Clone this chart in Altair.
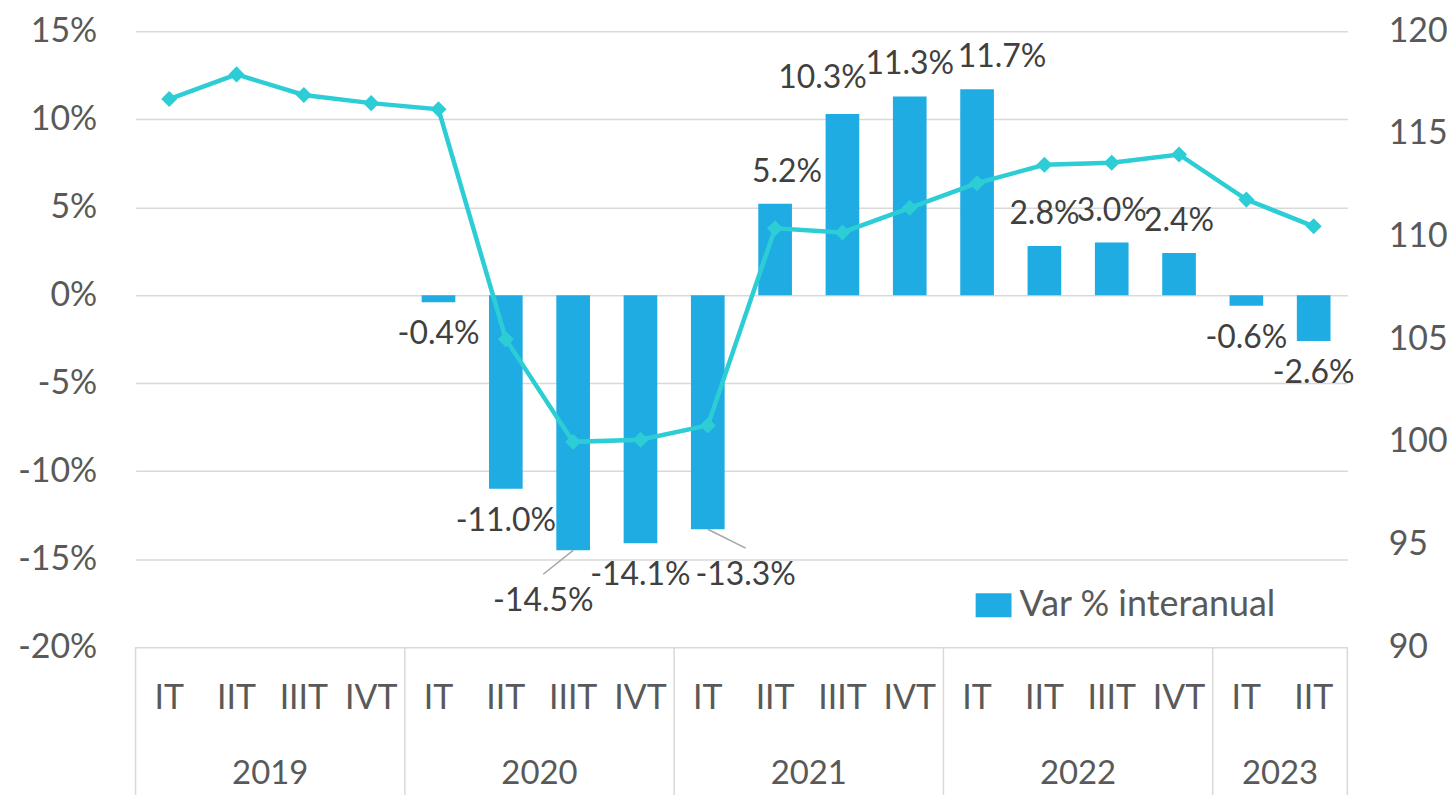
import altair as alt
import pandas as pd

# ---------------- data ----------------
years = ["2019"] * 4 + ["2020"] * 4 + ["2021"] * 4 + ["2022"] * 4 + ["2023"] * 2
quarters = ["IT", "IIT", "IIIT", "IVT"] * 4 + ["IT", "IIT"]
var_pct = [None, None, None, None, -0.4, -11.0, -14.5, -14.1, -13.3,
           5.2, 10.3, 11.3, 11.7, 2.8, 3.0, 2.4, -0.6, -2.6]
index_vals = [116.7, 117.9, 116.9, 116.5, 116.2, 105.0, 100.0, 100.1, 100.8,
              110.4, 110.2, 111.4, 112.6, 113.5, 113.6, 114.0, 111.8, 110.5]
series_name = "Var % interanual"
left_ticks = [-20, -15, -10, -5, 0, 5, 10, 15]
right_ticks = [90, 95, 100, 105, 110, 115, 120]

# label nudges in screen pixels (dx, dy) for crowded labels
label_nudge = {6: (-30, 19), 8: (38, 14), 9: (12, 0), 10: (-20, -4), 12: (25, 0)}
leader_for = [6, 8]

# ---------------- layout constants ----------------
W, H = 1216, 618
N = len(quarters)
PXX = W / N                 # px per category
PXY = H / (left_ticks[-1] - left_ticks[0])   # px per percentage point
GAP = 32
FONT = "Lato"
BAR_C = "#1EACE2"
LINE_C = "#2DCDD6"
TXT = "#595959"
GRID = "#D9D9D9"

rows = []
for i in range(N):
    v = var_pct[i]
    dx, dy = label_nudge.get(i, (0, 0))
    rec = dict(idx=i, year=years[i], quarter=quarters[i], var=v,
               index=index_vals[i], series=series_name)
    if v is not None:
        s = 1 if v >= 0 else -1
        rec["lab_x"] = i + dx / PXX
        rec["lab_y"] = v + s * GAP / PXY - dy / PXY
        rec["label"] = f"{v:.1f}%"
        rec["x0"] = i - 0.25
        rec["x1"] = i + 0.25
        if i in leader_for:
            rec["lead_x"] = rec["lab_x"]
            rec["lead_y"] = rec["lab_y"] + 27 / PXY
    rows.append(rec)
df = pd.DataFrame(rows)

bars_df = df.dropna(subset=["var"])
lead_df = df.dropna(subset=["lead_x"])

year_df = df.groupby("year", as_index=False).agg(mid=("idx", "mean"), last=("idx", "max"))
sep_vals = [-0.5] + [v + 0.5 for v in year_df["last"].tolist()]
sep_df = pd.DataFrame({"sx": sep_vals})

xscale = alt.Scale(domain=[-0.5, N - 0.5], nice=False, zero=False)
yl_scale = alt.Scale(domain=[left_ticks[0], left_ticks[-1]], nice=False, zero=False)
yr_scale = alt.Scale(domain=[right_ticks[0], right_ticks[-1]], nice=False, zero=False)

left_axis = alt.Axis(values=left_ticks, labelExpr="datum.value + '%'", title=None,
                     domain=False, ticks=False, labelFontSize=34, labelFont=FONT,
                     labelColor=TXT, labelPadding=39, grid=True, gridColor=GRID,
                     gridWidth=1.5)
right_axis = alt.Axis(values=right_ticks, title=None, orient="right", domain=False,
                      ticks=False, labelFontSize=34, labelFont=FONT, labelColor=TXT,
                      labelPadding=41, grid=False)

base = alt.Chart(df)

bars = alt.Chart(bars_df).mark_bar().encode(
    x=alt.X("x0:Q", scale=xscale, axis=None),
    x2="x1:Q",
    y=alt.Y("var:Q", scale=yl_scale, axis=left_axis),
    y2=alt.datum(0),
    color=alt.Color("series:N", scale=alt.Scale(domain=[series_name], range=[BAR_C]),
                    legend=alt.Legend(title=None, orient="none", legendX=837, legendY=552,
                                      symbolType="M-0.75,-0.5H0.75V0.5H-0.75Z",
                                      symbolSize=2304, symbolStrokeWidth=0,
                                      symbolOpacity=1,
                                      labelFontSize=36, labelFont=FONT, labelColor=TXT,
                                      labelLimit=0, labelOffset=2, padding=0)),
)

labels = alt.Chart(bars_df).mark_text(fontSize=32, font=FONT, color="#404040",
                                      baseline="middle", align="center").encode(
    x=alt.X("lab_x:Q", scale=xscale, axis=None),
    y=alt.Y("lab_y:Q", scale=yl_scale, axis=left_axis),
    text="label:N",
)

leaders = alt.Chart(lead_df).mark_rule(color="#A6A6A6", strokeWidth=1.5).encode(
    x=alt.X("idx:Q", scale=xscale, axis=None),
    x2="lead_x:Q",
    y=alt.Y("var:Q", scale=yl_scale, axis=left_axis),
    y2="lead_y:Q",
)

q_text = base.mark_text(fontSize=34, font=FONT, color=TXT, baseline="middle").encode(
    x=alt.X("idx:Q", scale=xscale, axis=None),
    y=alt.value(H + 52),
    text="quarter:N",
)

y_text = alt.Chart(year_df).mark_text(fontSize=33, font=FONT, color=TXT,
                                      baseline="middle").encode(
    x=alt.X("mid:Q", scale=xscale, axis=None),
    y=alt.value(H + 127),
    text="year:N",
)

seps = alt.Chart(sep_df).mark_rule(color=GRID, strokeWidth=1.5).encode(
    x=alt.X("sx:Q", scale=xscale, axis=None),
    y=alt.value(H),
    y2=alt.value(H + 160),
)

left = alt.layer(bars, leaders, labels, q_text, y_text, seps)

line = base.mark_line(color=LINE_C, strokeWidth=4.5).encode(
    x=alt.X("idx:Q", scale=xscale, axis=None),
    y=alt.Y("index:Q", scale=yr_scale, axis=right_axis),
)
pts = base.mark_point(shape="diamond", filled=True, color=LINE_C, size=260, opacity=1).encode(
    x=alt.X("idx:Q", scale=xscale, axis=None),
    y=alt.Y("index:Q", scale=yr_scale, axis=right_axis),
)
right = alt.layer(line, pts)

chart = alt.layer(left, right).resolve_scale(y="independent").properties(
    width=W, height=H,
    autosize=alt.AutoSizeParams(type="none"),
    padding={"left": 128, "top": 22, "right": 100, "bottom": 147},
    background="white",
).configure_view(stroke=None)

chart.save("out.html", embed_options={"renderer": "svg", "actions": False})
